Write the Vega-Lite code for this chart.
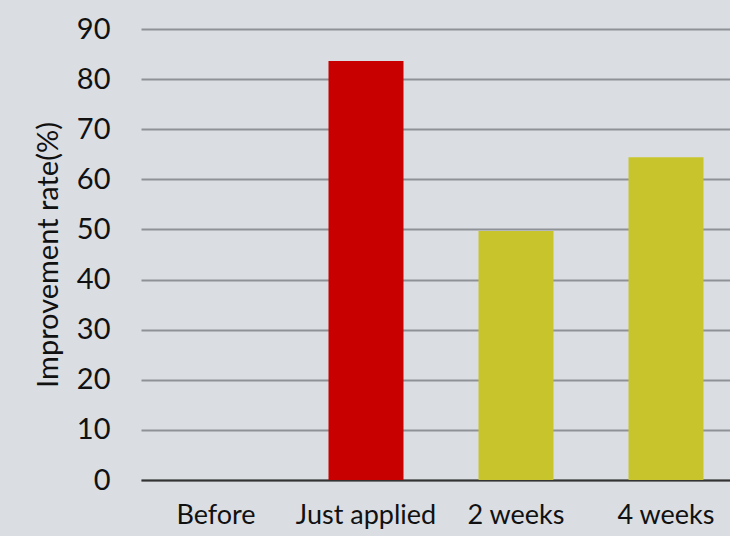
{
  "$schema": "https://vega.github.io/schema/vega-lite/v6.json",
  "width": 600,
  "height": 451,
  "autosize": {"type": "none"},
  "padding": {"left": 141, "top": 29, "right": 0, "bottom": 56},
  "background": "#dadee3",
  "config": {
    "view": {"stroke": null},
    "font": "Lato",
    "axis": {"labelFont": "Lato", "titleFont": "Lato"}
  },
  "data": {
    "values": [
      {"stage": "Before", "rate": 0, "group": "base"},
      {"stage": "Just applied", "rate": 83.6, "group": "applied"},
      {"stage": "2 weeks", "rate": 49.7, "group": "after"},
      {"stage": "4 weeks", "rate": 64.4, "group": "after"}
    ]
  },
  "mark": {"type": "bar"},
  "encoding": {
    "x": {
      "field": "stage",
      "type": "nominal",
      "sort": null,
      "scale": {"paddingInner": 0.5, "paddingOuter": 0.25},
      "axis": {
        "title": null,
        "labelAngle": 0,
        "labelFontSize": 27,
        "labelColor": "#111111",
        "labelPadding": 22,
        "ticks": false,
        "domainColor": "#333333",
        "domainWidth": 2
      }
    },
    "y": {
      "field": "rate",
      "type": "quantitative",
      "scale": {"domain": [0, 90], "nice": false},
      "axis": {
        "title": "Improvement rate(%)",
        "titleFontSize": 29,
        "titleFontWeight": "normal",
        "titleColor": "#111111",
        "titlePadding": 13,
        "values": [0, 10, 20, 30, 40, 50, 60, 70, 80, 90],
        "labelFontSize": 29,
        "labelColor": "#111111",
        "labelPadding": 31,
        "ticks": false,
        "domain": false,
        "grid": true,
        "gridColor": "#8e9296",
        "gridWidth": 2
      }
    },
    "color": {
      "field": "group",
      "type": "nominal",
      "scale": {"domain": ["base", "applied", "after"], "range": ["#c8c42c", "#c80000", "#c8c42c"]},
      "legend": null
    }
  }
}
